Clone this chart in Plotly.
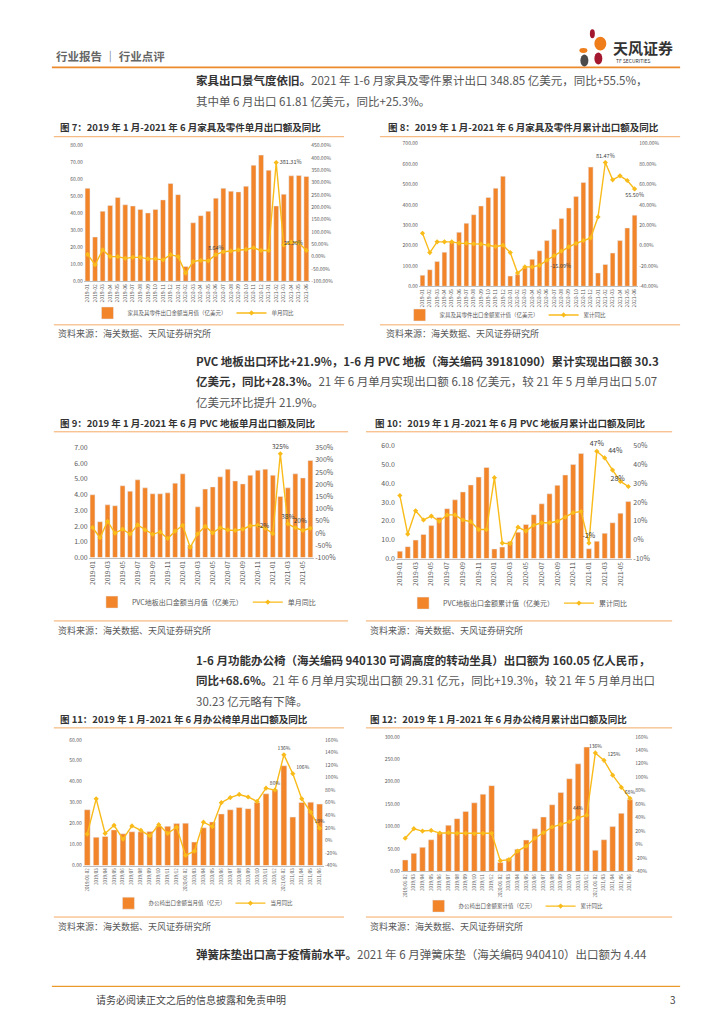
import plotly.graph_objects as go

W, H = 724, 1024
def fx(p): return p / W
def fy(p): return 1 - p / H

ORANGE = "#F2842A"
YELLOW = "#F9BB1A"
RULE = "#F4AA66"
TXT = "#555555"
GRAY = "#595959"
FONT = "Noto Sans CJK SC, Noto Sans, sans-serif"

# ---------------- data ----------------
MONTHS = ["2019-01", "2019-02", "2019-03", "2019-04", "2019-05", "2019-06",
          "2019-07", "2019-08", "2019-09", "2019-10", "2019-11", "2019-12",
          "2020-01", "2020-02", "2020-03", "2020-04", "2020-05", "2020-06",
          "2020-07", "2020-08", "2020-09", "2020-10", "2020-11", "2020-12",
          "2021-01", "2021-02", "2021-03", "2021-04", "2021-05", "2021-06"]
PVC_TICKS = ["2019-01", "2019-03", "2019-05", "2019-07", "2019-09", "2019-11",
             "2020-01", "2020-03", "2020-05", "2020-07", "2020-09", "2020-11",
             "2021-01", "2021-03", "2021-05"]
CHAIR_CATS = ["2019/01-02", "2019/03", "2019/04", "2019/05", "2019/06", "2019/07",
              "2019/08", "2019/09", "2019/10", "2019/11", "2019/12",
              "2020/01-02", "2020/03", "2020/04", "2020/05", "2020/06", "2020/07",
              "2020/08", "2020/09", "2020/10", "2020/11", "2020/12",
              "2021/01-02", "2021/03", "2021/04", "2021/05", "2021/06"]

# Fig 7: furniture monthly exports (100m USD) and YoY (%)
fur_month = [54.8, 26.1, 41.3, 44.7, 49.4, 45.1, 44.4, 42.4, 40.3, 42.4, 48.0, 57.7,
             51.1, 8.7, 34.5, 38.7, 41.3, 49.0, 54.8, 53.1, 52.7, 56.0, 68.4, 74.4,
             65.5, 44.4, 51.3, 62.2, 62.4, 61.81]
fur_month_yoy = [9, -33, 27, 0, 0, -7, -3, -3, -9, -9, -13, 8,
                 0, -67, -20, -15, -17, 8, 20, 23, 27, 29, 36, 25,
                 25, 381.31, 47, 59, 56, 25.3]
fur_month_lbl = {17: "8.64%", 25: "381.31%", 29: "25.30%"}

# Fig 8: furniture cumulative exports and YoY
fur_cum = [54, 81, 122, 167, 216, 265, 309, 351, 394, 436, 481, 540,
           50, 57, 91, 132, 174, 224, 280, 333, 384, 441, 509, 585,
           65, 107, 163, 224, 286, 348.85]
fur_cum_yoy = [12, -7, 3.6, 3.6, 3.6, 2.3, 2.3, 1.6, 1.3, 0.3, -1, 0.3,
               -7, -27, -21, -21, -19.5, -14.5, -10, -5.5, -1.3, 2, 5, 7.5,
               28, 81.47, 64.5, 68.4, 63.8, 55.5]
fur_cum_lbl = {17: "-15.09%", 25: "81.47%", 29: "55.50%"}

# Fig 9: PVC flooring monthly exports and YoY
pvc_month = [4.00, 2.28, 3.36, 3.30, 4.57, 4.23, 4.95, 4.44, 4.06, 4.06, 4.12, 4.74,
             5.33, 0.80, 3.23, 4.36, 4.50, 5.14, 5.63, 4.88, 4.69, 5.24, 5.56, 5.63,
             5.24, 3.89, 4.44, 5.33, 5.07, 6.18]
pvc_month_yoy = [23, -19, 48, 0, 16, -4, 34, 13, -5, 5, -22, 8,
                 32, -58, -3, 28, 1, 22, 13, 11, 16, 30, 32, 20,
                 -2, 325, 38, 22, 11, 20]
pvc_month_lbl = {24: "-2%", 25: "325%", 26: "38%", 29: "20%"}

# Fig 10: PVC flooring cumulative exports and YoY
pvc_cum = [3.9, 6.3, 9.8, 12.8, 17.5, 21.8, 26.5, 31.2, 35.4, 39.1, 43.3, 48.4,
           5.1, 6.1, 9.0, 14.0, 18.1, 23.3, 29.1, 34.4, 38.9, 44.4, 50.0, 55.8,
           5.2, 9.2, 13.4, 19.0, 24.1, 30.3]
pvc_cum_yoy = [23.5, 3, 15.4, 10.5, 12.6, 9.8, 13.2, 13.2, 10.5, 9.6, 5.4, 5.4,
               33, -1.8, -2.1, 6.7, 4.6, 7.7, 9, 9, 9.8, 12, 14.4, 15,
               -1.8, 47, 43.5, 37, 31, 28.3]
pvc_cum_lbl = {24: "-2%", 25: "47%", 26: "44%", 29: "28%"}

# Fig 11: office chair monthly exports (100m CNY) and YoY
chair_month = [26.6, 13.5, 13.9, 17.0, 15.1, 16.1, 16.1, 16.2, 18.9, 18.7, 20.0,
               20.2, 11.2, 18.0, 20.8, 24.6, 26.6, 27.7, 27.1, 30.1, 34.2, 36.1,
               47.6, 23.1, 30.1, 30.23, 29.31]
chair_month_yoy = [10, 66, 11, 24, 2, 23, 16, 7, 25, 11, 21,
                   -24, -17, 29, 22, 60, 68, 73, 69, 62, 83, 80,
                   136, 106, 66, 45, 19.3]
chair_month_lbl = {21: "80%", 22: "136%", 23: "106%", 26: "19%"}

# Fig 12: office chair cumulative exports and YoY
chair_cum = [25.7, 40.4, 53.7, 70.6, 85.3, 102.9, 117.6, 133.8, 152.9, 172.1, 191.2,
             19.9, 29.4, 49.3, 69.9, 94.9, 121.3, 148.5, 175.7, 206.6, 239.7, 277.2,
             47.1, 70.6, 100.0, 129.4, 160.05]
chair_cum_yoy = [9.3, 23.5, 20, 21, 17, 17.6, 16.7, 16.7, 16, 16.7, 16.7,
                 -24, -22.5, -9.8, -2.5, 9.3, 17.6, 26, 30, 33.8, 39.7, 43.6,
                 136, 125, 103, 85, 68.6]
chair_cum_lbl = {21: "44%", 22: "136%", 23: "125%", 26: "68%"}

# axis ticks
T7_L = [0, 10, 20, 30, 40, 50, 60, 70, 80]
T7_R = [-100, -50, 0, 50, 100, 150, 200, 250, 300, 350, 400, 450]
T8_L = [0, 100, 200, 300, 400, 500, 600, 700]
T8_R = [-40, -20, 0, 20, 40, 60, 80, 100]
T9_L = [0, 1, 2, 3, 4, 5, 6, 7]
T9_R = [-100, -50, 0, 50, 100, 150, 200, 250, 300, 350]
T10_L = [0, 10, 20, 30, 40, 50, 60]
T10_R = [-10, 0, 10, 20, 30, 40, 50]
T11_L = [0, 10, 20, 30, 40, 50, 60]
T11_R = [-40, -20, 0, 20, 40, 60, 80, 100, 120, 140, 160]
T12_L = [0, 50, 100, 150, 200, 250, 300]
T12_R = [-40, -20, 0, 20, 40, 60, 80, 100, 120, 140, 160]

charts = [
    dict(cats=MONTHS, ticks=MONTHS, bars=fur_month, line=fur_month_yoy, lbl=fur_month_lbl,
         lpos={17: "top center", 25: "middle right", 29: "top left"},
         box=(82, 309, 141, 278), tl=T7_L, tr=T7_R, ld=2, rd=2,
         names=("家具及其零件出口金额当月值（亿美元）", "单月同比"), leg=(192, 310),
         tf=5, xf=5, lgf=5.5, lbf=5.5),
    dict(cats=MONTHS, ticks=MONTHS, bars=fur_cum, line=fur_cum_yoy, lbl=fur_cum_lbl,
         lpos={17: "bottom right", 25: "top center", 29: "bottom center"},
         box=(418, 638, 139, 283), tl=T8_L, tr=T8_R, ld=2, rd=2,
         names=("家具及其零件出口金额累计值（亿美元）", "累计同比"), leg=(505, 312),
         tf=5, xf=5, lgf=5.5, lbf=5.5),
    dict(cats=MONTHS, ticks=PVC_TICKS, bars=pvc_month, line=pvc_month_yoy, lbl=pvc_month_lbl,
         lpos={24: "top left", 25: "top center", 26: "top center", 29: "top left"},
         box=(87, 313, 446, 557), tl=T9_L, tr=T9_R, ld=2, rd=0,
         names=("PVC地板出口金额当月值（亿美元）", "单月同比"), leg=(205, 602),
         tf=7, xf=6.5, lgf=7, lbf=6.5),
    dict(cats=MONTHS, ticks=PVC_TICKS, bars=pvc_cum, line=pvc_cum_yoy, lbl=pvc_cum_lbl,
         lpos={24: "top center", 25: "top center", 26: "top right", 29: "top left"},
         box=(395, 632, 444, 558), tl=T10_L, tr=T10_R, ld=1, rd=0,
         names=("PVC地板出口金额累计值（亿美元）", "累计同比"), leg=(517, 603),
         tf=7, xf=6.5, lgf=7, lbf=7),
    dict(cats=CHAIR_CATS, ticks=CHAIR_CATS, bars=chair_month, line=chair_month_yoy,
         lbl=chair_month_lbl,
         lpos={21: "top center", 22: "top center", 23: "top right", 26: "top center"},
         box=(81, 323, 741, 868), tl=T11_L, tr=T11_R, ld=2, rd=0,
         names=("办公椅出口金额当月值（亿元）", "当月同比"), leg=(202, 906),
         tf=5, xf=4.5, lgf=5.5, lbf=5),
    dict(cats=CHAIR_CATS, ticks=CHAIR_CATS, bars=chair_cum, line=chair_cum_yoy,
         lbl=chair_cum_lbl,
         lpos={21: "top left", 22: "top center", 23: "top right", 26: "top center"},
         box=(400, 634, 738, 874), tl=T12_L, tr=T12_R, ld=2, rd=0,
         names=("办公椅出口金额累计值（亿元）", "累计同比"), leg=(513, 909),
         tf=5, xf=4.5, lgf=5.5, lbf=5),
]

fig = go.Figure()
layout = {}
for i, c in enumerate(charts, start=1):
    xid = f"x{i}"
    yl = f"y{2*i-1}"
    yr = f"y{2*i}"
    legname = "legend" if i == 1 else f"legend{i}"
    x0, x1, yt, yb = c["box"]
    n = len(c["cats"])
    fig.add_trace(go.Bar(x=c["cats"], y=c["bars"], name=c["names"][0],
                         marker_color=ORANGE, xaxis=xid, yaxis=yl, legend=legname))
    texts = [c["lbl"].get(k, "") for k in range(n)]
    tpos = [c["lpos"].get(k, "top center") for k in range(n)]
    fig.add_trace(go.Scatter(x=c["cats"], y=c["line"], name=c["names"][1],
                             mode="lines+markers+text", text=texts, textposition=tpos,
                             textfont=dict(size=c["lbf"], color="#404040"),
                             line=dict(color=YELLOW, width=1.4),
                             marker=dict(symbol="diamond", size=4, color=YELLOW),
                             cliponaxis=False, xaxis=xid, yaxis=yr, legend=legname))
    xkey = "xaxis" if i == 1 else f"xaxis{i}"
    ylkey = f"yaxis{2*i-1}" if i > 1 else "yaxis"
    yrkey = f"yaxis{2*i}"
    layout[xkey] = dict(domain=[fx(x0), fx(x1)], anchor=yl, type="category",
                        categoryorder="array", categoryarray=c["cats"],
                        tickvals=c["ticks"], ticktext=c["ticks"], tickangle=-90,
                        tickfont=dict(size=c["xf"], color=GRAY), showline=True,
                        linecolor="#BFBFBF", linewidth=0.8, showgrid=False, ticks="",
                        range=[-0.5, n - 0.5])
    layout[ylkey] = dict(domain=[fy(yb), fy(yt)], anchor=xid,
                         range=[c["tl"][0], c["tl"][-1]], tickvals=c["tl"],
                         ticktext=[f"{v:.{c['ld']}f}" for v in c["tl"]],
                         showgrid=False, zeroline=False, showline=False, ticks="",
                         tickfont=dict(size=c["tf"], color=GRAY))
    layout[yrkey] = dict(overlaying=yl, side="right", anchor=xid,
                         range=[c["tr"][0], c["tr"][-1]], tickvals=c["tr"],
                         ticktext=[f"{v:.{c['rd']}f}%" for v in c["tr"]],
                         showgrid=False, zeroline=False, showline=False, ticks="",
                         tickfont=dict(size=c["tf"], color=GRAY))
    layout[legname] = dict(x=fx(c["leg"][0]), y=fy(c["leg"][1]), xanchor="center",
                           yanchor="middle", orientation="h",
                           font=dict(size=c["lgf"], color=GRAY, family=FONT),
                           bgcolor="rgba(0,0,0,0)", itemwidth=30)

fig.update_layout(**layout)

# ---------------- page decoration ----------------
shapes = []
def hline(y, xa, xb, color=RULE, w=1.0):
    shapes.append(dict(type="line", xref="paper", yref="paper", x0=fx(xa), x1=fx(xb),
                       y0=fy(y), y1=fy(y), line=dict(color=color, width=w)))

hline(62, 50, 680, "#EC8A2C", 1.6)
for y in (132, 322):
    hline(y, 52, 343)
    hline(y, 379, 680)
for y in (430, 621):
    hline(y, 52, 347)
    hline(y, 365, 672)
for y in (729, 920):
    hline(y, 52, 343)
    hline(y, 365, 672)
hline(990, 50, 680, "#EC9A2C", 1.4)

# logo petals
def petal(cx, cy, rx, ry, color):
    shapes.append(dict(type="circle", xref="paper", yref="paper",
                       x0=fx(cx - rx), x1=fx(cx + rx), y0=fy(cy + ry), y1=fy(cy - ry),
                       fillcolor=color, line=dict(width=0)))
petal(592, 28, 2.5, 4.5, "#A3182F")
petal(600, 38, 6, 7, "#EE7D1A")
petal(583, 45, 4, 2.5, "#EE7D1A")
petal(598, 53, 4, 6, "#A3182F")
petal(584, 55, 4, 6, "#4A4A4A")

annos = []
def txt(x, y, s, size=11.5, color=TXT, anchor="left", bold=False):
    annos.append(dict(xref="paper", yref="paper", x=fx(x), y=fy(y), text=(f"<b>{s}</b>" if bold else s),
                      showarrow=False, xanchor=anchor, yanchor="middle",
                      font=dict(size=size, color=color, family=FONT)))

def B(s):
    return f"<span style='color:#333333'><b>{s}</b></span>"

txt(52, 50, "行业报告 ｜ 行业点评", 11.5, "#666666", bold=True)
txt(611, 42, "天风证券", 15, "#333333", bold=True)
txt(614, 55, "TF SECURITIES", 5, "#333333")

txt(193, 75, B("家具出口景气度依旧。") + "2021 年 1-6 月家具及零件累计出口 348.85 亿美元，同比+55.5%，")
txt(193, 96, "其中单 6 月出口 61.81 亿美元，同比+25.3%。")
txt(193, 358, B("PVC 地板出口环比+21.9%，1-6 月 PVC 地板（海关编码 39181090）累计实现出口额 30.3"))
txt(193, 379, B("亿美元，同比+28.3%。") + "21 年 6 月单月实现出口额 6.18 亿美元，较 21 年 5 月单月出口 5.07")
txt(193, 400, "亿美元环比提升 21.9%。")
txt(193, 660, B("1-6 月功能办公椅（海关编码 940130 可调高度的转动坐具）出口额为 160.05 亿人民币，"))
txt(193, 681, B("同比+68.6%。") + "21 年 6 月单月实现出口额 29.31 亿元，同比+19.3%，较 21 年 5 月单月出口")
txt(193, 702, "30.23 亿元略有下降。")
txt(193, 957, B("弹簧床垫出口高于疫情前水平。") + "2021 年 6 月弹簧床垫（海关编码 940410）出口额为 4.44")

TS = 9.5
txt(56, 122, "图 7：2019 年 1 月-2021 年 6 月家具及零件单月出口额及同比", TS, "#333333", bold=True)
txt(385, 122, "图 8：2019 年 1 月-2021 年 6 月家具及零件月累计出口额及同比", TS, "#333333", bold=True)
txt(56, 421, "图 9：2019 年 1 月-2021 年 6 月 PVC 地板单月出口额及同比", TS, "#333333", bold=True)
txt(372, 421, "图 10：2019 年 1 月-2021 年 6 月 PVC 地板月累计出口额及同比", TS, "#333333", bold=True)
txt(56, 720, "图 11：2019 年 1 月-2021 年 6 月办公椅单月出口额及同比", TS, "#333333", bold=True)
txt(367, 720, "图 12：2019 年 1 月-2021 年 6 月办公椅月累计出口额及同比", TS, "#333333", bold=True)

SRC = "资料来源：海关数据、天风证券研究所"
txt(54, 331, SRC, 9, GRAY)
txt(383, 331, SRC, 9, GRAY)
txt(54, 631, SRC, 9, GRAY)
txt(367, 631, SRC, 9, GRAY)
txt(54, 930, SRC, 9, GRAY)
txt(367, 930, SRC, 9, GRAY)

txt(92, 1003, "请务必阅读正文之后的信息披露和免责申明", 10, "#444444")
txt(678, 1003, "3", 10, "#444444", anchor="right")

fig.update_layout(width=W, height=H, margin=dict(l=0, r=0, t=0, b=0),
                  paper_bgcolor="white", plot_bgcolor="white",
                  font=dict(family=FONT, color=GRAY),
                  bargap=0.35, shapes=shapes, annotations=annos, showlegend=True)

fig.write_html("out.html", config={"displayModeBar": False},
               post_script="document.body.style.margin='0';document.body.style.overflow='hidden';")
